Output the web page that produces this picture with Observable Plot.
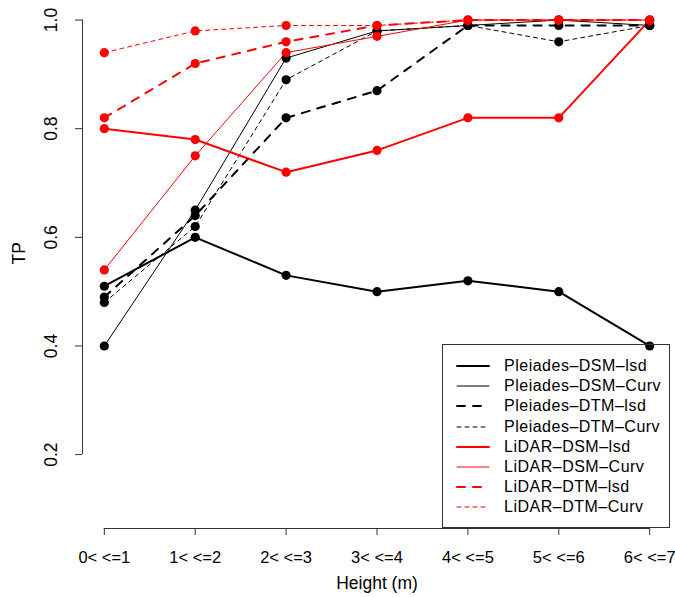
<!DOCTYPE html>
<html>
<head>
<meta charset="utf-8">
<script src="https://cdn.jsdelivr.net/npm/d3@7"></script>
<script src="https://cdn.jsdelivr.net/npm/@observablehq/plot@0.6"></script>
<style>
  html, body { margin: 0; padding: 0; background: #fff; }
  #wrap { position: relative; width: 675px; height: 597px; font-family: "Liberation Sans", Arial, sans-serif; }
  #legend { position: absolute; left: 442px; top: 344px; width: 228px; height: 184px; border: 1px solid #333; background: transparent; box-sizing: border-box; }
  .row { position: absolute; left: 0; height: 20px; display: flex; align-items: center; }
  .row svg { margin-left: 13px; }
  .row span { margin-left: 14px; font-size: 16px; letter-spacing: 0.5px; color: #000; white-space: nowrap; }
</style>
</head>
<body>
<div id="wrap"></div>
<script>
// ---- data ----
const categories = ["0< <=1", "1< <=2", "2< <=3", "3< <=4", "4< <=5", "5< <=6", "6< <=7"];
const yTicks = [0.2, 0.4, 0.6, 0.8, 1.0];

const seriesNames = [
  "Pleiades–DSM–lsd", "Pleiades–DSM–Curv", "Pleiades–DTM–lsd", "Pleiades–DTM–Curv",
  "LiDAR–DSM–lsd", "LiDAR–DSM–Curv", "LiDAR–DTM–lsd", "LiDAR–DTM–Curv"
];
const pleiadesDSMlsd  = [0.51, 0.60, 0.53, 0.50, 0.52, 0.50, 0.40];
const pleiadesDSMCurv = [0.40, 0.65, 0.93, 0.98, 0.99, 1.00, 0.99];
const pleiadesDTMlsd  = [0.49, 0.64, 0.82, 0.87, 0.99, 0.99, 0.99];
const pleiadesDTMCurv = [0.48, 0.62, 0.89, 0.98, 0.99, 0.96, 0.99];
const lidarDSMlsd     = [0.80, 0.78, 0.72, 0.76, 0.82, 0.82, 1.00];
const lidarDSMCurv    = [0.54, 0.75, 0.94, 0.97, 1.00, 1.00, 1.00];
const lidarDTMlsd     = [0.82, 0.92, 0.96, 0.99, 1.00, 1.00, 1.00];
const lidarDTMCurv    = [0.94, 0.98, 0.99, 0.99, 1.00, 1.00, 1.00];

const seriesValues = [pleiadesDSMlsd, pleiadesDSMCurv, pleiadesDTMlsd, pleiadesDTMCurv,
                      lidarDSMlsd, lidarDSMCurv, lidarDTMlsd, lidarDTMCurv];
// styles
const colors = ["#000", "#000", "#000", "#000", "#ff0000", "#ff0000", "#ff0000", "#ff0000"];
const widths = [2, 1, 2, 1, 2, 1, 2, 1];
const dashes = ["none", "none", "8,8", "4,4", "none", "none", "8,8", "4,4"];

const rows = [];
seriesValues.forEach((vals, s) => vals.forEach((v, i) => rows.push({s, name: seriesNames[s], x: i + 1, y: v})));

const n = categories.length;
const xPad = 0.04 * (n - 1);
const yLo = 0.1, yHi = 1.0, yPad = 0.04 * (yHi - yLo);

const marks = [];
seriesNames.forEach((name, s) => {
  marks.push(Plot.line(rows.filter(d => d.s === s), {
    x: "x", y: "y", stroke: colors[s], strokeWidth: widths[s],
    strokeDasharray: dashes[s], strokeLinecap: "round", strokeLinejoin: "round"
  }));
});
seriesNames.forEach((name, s) => {
  marks.push(Plot.dot(rows.filter(d => d.s === s), {x: "x", y: "y", r: 4.6, fill: colors[s], stroke: "none"}));
});

// axes
const xIdx = categories.map((c, i) => i + 1);
const tickFont = 16.5, titleFont = 17.5;
marks.push(Plot.ruleY([yLo - yPad], {x1: d3.min(xIdx), x2: d3.max(xIdx), stroke: "#333", strokeWidth: 1}));
marks.push(Plot.ruleX([1 - xPad], {y1: d3.min(yTicks), y2: d3.max(yTicks), stroke: "#333", strokeWidth: 1}));
marks.push(Plot.axisX(xIdx, {tickSize: 7, tickPadding: 16, tickFormat: i => categories[i - 1], fontSize: tickFont, stroke: "#333", fill: "#000", label: null}));
marks.push(Plot.axisY(yTicks, {tickSize: 7, tickFormat: () => "", stroke: "#333", label: null}));
marks.push(Plot.text(yTicks, {x: 1 - xPad, y: d => d, text: d => d.toFixed(1), rotate: -90, dx: -31, fontSize: titleFont, fill: "#000"}));
marks.push(Plot.text(["Height (m)"], {frameAnchor: "bottom", dy: 60, fontSize: titleFont, fill: "#000"}));
marks.push(Plot.text(["TP"], {frameAnchor: "left", dx: -63, rotate: -90, fontSize: titleFont, fill: "#000"}));

const chart = Plot.plot({
  width: 675, height: 597,
  marginTop: 0, marginBottom: 69, marginLeft: 82, marginRight: 4,
  style: {fontFamily: '"Liberation Sans", Arial, sans-serif', fontSize: "16px", background: "#fff", overflow: "visible"},
  x: {type: "linear", domain: [1 - xPad, n + xPad], axis: null},
  y: {type: "linear", domain: [yLo - yPad, yHi + yPad], axis: null},
  marks
});
const wrap = document.getElementById("wrap");
wrap.appendChild(chart);

// legend
const legend = document.createElement("div");
legend.id = "legend";
seriesNames.forEach((name, s) => {
  const row = document.createElement("div");
  row.className = "row";
  row.style.top = (11 + s * 20.2) + "px";
  row.innerHTML = `<svg width="34" height="8"><line x1="1" x2="33" y1="4" y2="4" stroke="${colors[s]}" stroke-width="${widths[s]}" stroke-dasharray="${dashes[s]}" stroke-linecap="round"/></svg><span>${name}</span>`;
  legend.appendChild(row);
});
wrap.appendChild(legend);
</script>
</body>
</html>
